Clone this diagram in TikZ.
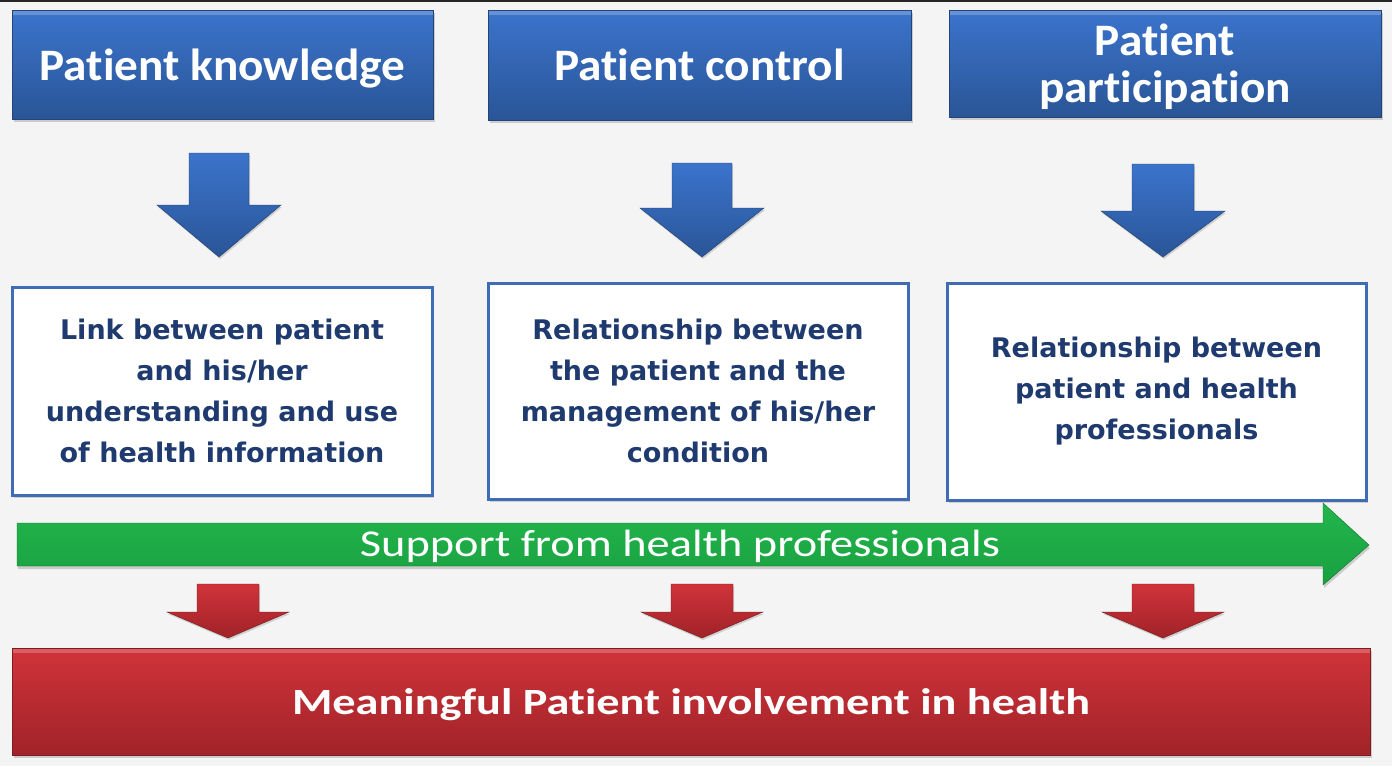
\documentclass[tikz,border=0pt]{standalone}
\usepackage{fontspec}
\setmainfont{Carlito}[Ligatures=NoCommon]
\newfontfamily\headfont{Carlito}[Ligatures=NoCommon, FakeStretch=1.05]
\newfontfamily\supfont{Carlito}[Ligatures=NoCommon, FakeStretch=1.22]
\newfontfamily\resfont{Carlito}[Ligatures=NoCommon, FakeStretch=1.25]
\newfontfamily\boxfont{DejaVu Sans}
\usetikzlibrary{shadows}
\definecolor{bg}{HTML}{F4F4F4}
\definecolor{bluetop}{HTML}{3B74CC}
\definecolor{bluebot}{HTML}{2A5597}
\definecolor{redtop}{HTML}{D0333A}
\definecolor{redbot}{HTML}{A02328}
\definecolor{greentop}{HTML}{22B64C}
\definecolor{greenbot}{HTML}{19A040}
\definecolor{navy}{HTML}{1F3A6E}
\definecolor{frame}{HTML}{3F6DB5}
\tikzset{
  bevel/.style={path picture={\fill[white,opacity=0.22] (path picture bounding box.north west)
      rectangle ([yshift=-5pt]path picture bounding box.north east);}},
  headbox/.style={rectangle, inner sep=0pt, top color=bluetop, bottom color=bluebot,
    draw=bluebot!80!black, line width=0.6pt, text=white, align=center, bevel, text depth=0pt,
    font=\headfont\bfseries\fontsize{45}{47}\selectfont,
    drop shadow={shadow xshift=2pt, shadow yshift=-3pt, opacity=0.35}},
  infobox/.style={rectangle, inner sep=0pt, fill=white, draw=frame, line width=3pt,
    text=navy, align=center, font=\boxfont\bfseries\fontsize{27}{41}\selectfont,
    drop shadow={shadow xshift=2pt, shadow yshift=-3pt, opacity=0.3}},
  bluearr/.style={top color=bluetop, bottom color=bluebot, draw=bluebot!70!black, line width=0.4pt,
    drop shadow={shadow xshift=1pt, shadow yshift=-2pt, opacity=0.3}},
  redarr/.style={top color=redtop, bottom color=redbot, draw=redbot!70!black, line width=0.4pt,
    drop shadow={shadow xshift=1pt, shadow yshift=-2pt, opacity=0.3}},
}
% block arrow pointing down: #1 centre x, #2 top y, #3 wing y, #4 tip y, #5 half shaft, #6 half wing, #7 style
\newcommand\blockdownarrow[7]{%
  \path[#7] (#1-#5,#2) -- (#1+#5,#2) -- (#1+#5,#3) -- (#1+#6,#3) -- (#1,#4)
    -- (#1-#6,#3) -- (#1-#5,#3) -- cycle;}
\begin{document}
\begin{tikzpicture}[x=1pt,y=-1pt]
\fill[bg] (0,0) rectangle (1392,766);
\fill[black!85] (0,0) rectangle (1392,2);
\useasboundingbox (0,0) rectangle (1392,766);

% header boxes
\node[headbox, minimum width=421pt, minimum height=109pt] (h1) at (222.5,64.5) {Patient knowledge};
\node[headbox, minimum width=423pt, minimum height=110pt] (h2) at (699.5,65) {Patient control};
\node[headbox, minimum width=432pt, minimum height=107pt] (h3) at (1165,63.5) {Patient\\participation};

% blue down arrows
\blockdownarrow{219}{153}{205}{257}{30}{62}{bluearr}
\blockdownarrow{702}{163}{208}{257}{30}{62}{bluearr}
\blockdownarrow{1163}{164}{211}{257}{31}{62}{bluearr}

% info boxes
\node[infobox, minimum width=420pt, minimum height=208pt] (b1) at (222,391)
  {Link between patient\\and his/her\\understanding and use\\of health information};
\node[infobox, minimum width=420pt, minimum height=216pt] (b2) at (698,391)
  {Relationship between\\the patient and the\\management of his/her\\condition};
\node[infobox, minimum width=419pt, minimum height=217pt] (b3) at (1156.5,391.5)
  {Relationship between\\patient and health\\professionals};

% green arrow
\path[top color=greentop, bottom color=greenbot, draw=greenbot!70!black, line width=0.4pt,
  drop shadow={shadow xshift=1pt, shadow yshift=-3pt, opacity=0.35}]
  (17,523) -- (1323,523) -- (1323,503) -- (1369,545) -- (1323,585) -- (1323,566) -- (17,566) -- cycle;
\node[text=white, font=\supfont\fontsize{38}{40}\selectfont] (sup) at (680,546) {Support from health professionals};

% red down arrows
\blockdownarrow{228}{584}{612}{638}{31}{61}{redarr}
\blockdownarrow{702}{584}{612}{638}{31}{61}{redarr}
\blockdownarrow{1163}{584}{612}{638}{31}{61}{redarr}

% red bar
\node[rectangle, inner sep=0pt, minimum width=1358pt, minimum height=107pt,
  top color=redtop, bottom color=redbot, draw=redbot!80!black, line width=0.6pt, bevel, text depth=0pt,
  drop shadow={shadow xshift=2pt, shadow yshift=-3pt, opacity=0.35},
  text=white, font=\resfont\bfseries\fontsize{37}{40}\selectfont] (res) at (691,701.5)
  {Meaningful Patient involvement in health};
\end{tikzpicture}
\end{document}
